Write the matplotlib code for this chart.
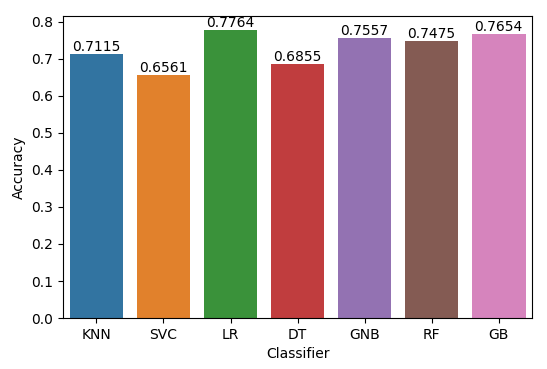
import matplotlib
matplotlib.use("Agg")
import matplotlib.pyplot as plt
import seaborn as sns

classifiers = ["KNN", "SVC", "LR", "DT", "GNB", "RF", "GB"]
accuracy = [0.7115, 0.6561, 0.7764, 0.6855, 0.7557, 0.7475, 0.7654]

colors = sns.color_palette("tab10", n_colors=len(classifiers), desat=0.75)

fig, ax = plt.subplots(figsize=(5.47, 3.69), dpi=100)
fig.subplots_adjust(left=0.115, right=0.973, top=0.957, bottom=0.138)
bars = ax.bar(classifiers, accuracy, width=0.8, color=colors)
for i, v in enumerate(accuracy):
    ax.text(i, v, f"{v:.4f}", ha="center", va="bottom", fontsize=10)
ax.set_xlim(-0.5, len(classifiers) - 0.5)
ax.set_ylim(0, max(accuracy) * 1.05)
ax.set_xlabel("Classifier")
ax.set_ylabel("Accuracy")
fig.savefig("out.png", dpi=100)
